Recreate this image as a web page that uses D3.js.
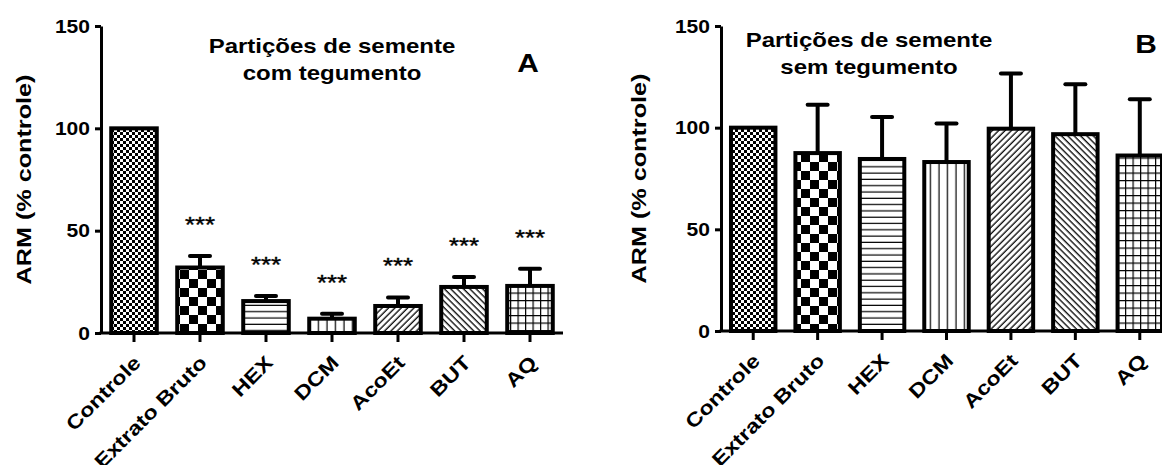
<!DOCTYPE html>
<html>
<head>
<meta charset="utf-8">
<script src="https://cdnjs.cloudflare.com/ajax/libs/d3/7.8.5/d3.min.js"></script>
<style>
  body { margin: 0; background: #fff; }
  text { font-family: "Liberation Sans", Arial, sans-serif; }
</style>
</head>
<body>
<div id="chart"></div>
<script>
// categories (same for both panels)
var categories = ["Controle", "Extrato Bruto", "HEX", "DCM", "AcoEt", "BUT", "AQ"];
// pattern used by each bar
var fills = ["fineCheck", "bigCheck", "hLines", "vLines", "diagUp", "diagDown", "grid"];
// panel A: com tegumento
var meanA = [100, 32, 15.6, 7, 13.2, 22.5, 23];
var semA = [0, 5.6, 2.5, 2.4, 4.2, 4.9, 8.4];
var sigA = ["", "***", "***", "***", "***", "***", "***"];
// panel B: sem tegumento
var meanB = [100, 87.5, 84.6, 83.1, 99.5, 96.8, 86.3];
var semB = [0, 23.8, 20.7, 18.9, 27.2, 24.5, 27.7];
var sigB = ["", "", "", "", "", "", ""];
var yTicks = [0, 50, 100, 150];

var W = 1162, H = 465;
var SX = 1.2; // glyphs in the reference are drawn wide

var svg = d3.select("#chart").append("svg")
  .attr("width", W)
  .attr("height", H)
  .attr("xmlns", "http://www.w3.org/2000/svg");

// hatch patterns
var defs = svg.append("defs");
function pat(id, w, h, tf) {
  var p = defs.append("pattern")
    .attr("id", id)
    .attr("patternUnits", "userSpaceOnUse")
    .attr("width", w).attr("height", h);
  if (tf) p.attr("patternTransform", tf);
  p.append("rect").attr("width", w).attr("height", h).attr("fill", "#fff");
  return p;
}
var p1 = pat("fineCheck", 6, 6);
p1.append("rect").attr("width", 3).attr("height", 3).attr("fill", "#000");
p1.append("rect").attr("x", 3).attr("y", 3).attr("width", 3).attr("height", 3).attr("fill", "#000");
var p2 = pat("bigCheck", 18, 18);
p2.append("rect").attr("width", 9).attr("height", 9).attr("fill", "#000");
p2.append("rect").attr("x", 9).attr("y", 9).attr("width", 9).attr("height", 9).attr("fill", "#000");
var p3 = pat("hLines", 10, 6.3);
p3.append("line").attr("x1", 0).attr("x2", 10).attr("y1", 3).attr("y2", 3).attr("stroke", "#000").attr("stroke-width", 1.2);
var p4 = pat("vLines", 8.5, 10);
p4.append("line").attr("x1", 4).attr("x2", 4).attr("y1", 0).attr("y2", 10).attr("stroke", "#000").attr("stroke-width", 1.2);
var p5 = pat("diagUp", 4.5, 10, "rotate(45)");
p5.append("line").attr("x1", 2).attr("x2", 2).attr("y1", 0).attr("y2", 10).attr("stroke", "#000").attr("stroke-width", 1.3);
var p6 = pat("diagDown", 4.5, 10, "rotate(-45)");
p6.append("line").attr("x1", 2).attr("x2", 2).attr("y1", 0).attr("y2", 10).attr("stroke", "#000").attr("stroke-width", 1.3);
var p7 = pat("grid", 7.5, 7.5);
p7.append("line").attr("x1", 0).attr("x2", 7.5).attr("y1", 0.6).attr("y2", 0.6).attr("stroke", "#000").attr("stroke-width", 1.2);
p7.append("line").attr("x1", 0.6).attr("x2", 0.6).attr("y1", 0).attr("y2", 7.5).attr("stroke", "#000").attr("stroke-width", 1.2);

function drawPanel(cfg) {
  var x = d3.scaleBand().domain(categories).range([cfg.x0, cfg.x1]).paddingInner(0.31).paddingOuter(0.155);
  var y = d3.scaleLinear().domain([0, 150]).range([cfg.y0, 26]);
  var g = svg.append("g");

  var rows = categories.map(function(c, i) {
    return { cat: c, mean: cfg.mean[i], sem: cfg.sem[i], sig: cfg.sig[i], fill: fills[i] };
  });

  // bars
  g.selectAll(".bar").data(rows).enter().append("rect")
    .attr("class", "bar")
    .attr("x", function(d) { return x(d.cat); })
    .attr("width", x.bandwidth())
    .attr("y", function(d) { return y(d.mean); })
    .attr("height", function(d) { return cfg.y0 - y(d.mean); })
    .attr("fill", function(d) { return "url(#" + d.fill + ")"; })
    .attr("stroke", "#000")
    .attr("stroke-width", 4);

  // error bars (upper only)
  var eb = rows.filter(function(d) { return d.sem > 0; });
  g.selectAll(".err").data(eb).enter().append("line")
    .attr("x1", function(d) { return x(d.cat) + x.bandwidth() / 2; })
    .attr("x2", function(d) { return x(d.cat) + x.bandwidth() / 2; })
    .attr("y1", function(d) { return y(d.mean); })
    .attr("y2", function(d) { return y(d.mean + d.sem); })
    .attr("stroke", "#000").attr("stroke-width", 4);
  g.selectAll(".cap").data(eb).enter().append("line")
    .attr("x1", function(d) { return x(d.cat) + x.bandwidth() / 2 - 10; })
    .attr("x2", function(d) { return x(d.cat) + x.bandwidth() / 2 + 10; })
    .attr("y1", function(d) { return y(d.mean + d.sem); })
    .attr("y2", function(d) { return y(d.mean + d.sem); })
    .attr("stroke", "#000").attr("stroke-width", 4).attr("stroke-linecap", "round");

  // significance stars
  g.selectAll(".sig").data(rows.filter(function(d) { return d.sig; })).enter().append("text")
    .attr("transform", function(d) {
      return "translate(" + (x(d.cat) + x.bandwidth() / 2) + "," + (y(d.mean + d.sem) - 24) + ") scale(1.12,1)";
    })
    .attr("text-anchor", "middle")
    .style("font-size", "23px")
    .style("stroke", "#000").style("stroke-width", 0.4)
    .text(function(d) { return d.sig; });

  // y axis
  var ya = g.append("g").attr("transform", "translate(" + cfg.x0 + ",0)")
    .call(d3.axisLeft(y).tickValues(yTicks).tickSize(6).tickSizeOuter(0).tickFormat(""));
  ya.select(".domain").attr("stroke-width", 3);
  ya.selectAll(".tick line").attr("stroke-width", 3);
  g.selectAll(".ylab").data(yTicks).enter().append("text")
    .attr("transform", function(d) { return "translate(" + (cfg.x0 - 11) + "," + (y(d) + 6.5) + ") scale(1.17,1)"; })
    .attr("text-anchor", "end")
    .style("font-size", "18px").style("font-weight", "bold")
    .text(function(d) { return d; });

  // x axis
  var xa = g.append("g").attr("transform", "translate(0," + cfg.y0 + ")")
    .call(d3.axisBottom(x).tickSize(9).tickSizeOuter(0).tickFormat(""));
  xa.select(".domain").attr("stroke-width", 3).attr("d", "M" + (cfg.x0 - 1.5) + ",0H" + cfg.x1);
  xa.selectAll(".tick line").attr("stroke-width", 3);
  g.selectAll(".xlab").data(categories).enter().append("text")
    .attr("transform", function(d) {
      return "translate(" + (x(d) + x.bandwidth() / 2 + 8) + "," + (cfg.y0 + 31) + ") rotate(-45) scale(" + SX + ",1)";
    })
    .attr("text-anchor", "end")
    .style("font-size", "19.5px").style("font-weight", "bold")
    .text(function(d) { return d; });

  // y axis title
  g.append("text")
    .attr("transform", "translate(" + cfg.ylabX + "," + ((cfg.y0 + 26) / 2) + ") rotate(-90) scale(" + SX + ",1)")
    .attr("text-anchor", "middle")
    .style("font-size", "21px").style("font-weight", "bold")
    .text("ARM (% controle)");

  // panel title
  cfg.title.forEach(function(t, i) {
    g.append("text")
      .attr("transform", "translate(" + cfg.titleX + "," + (cfg.titleY + i * 27) + ") scale(" + SX + ",1)")
      .attr("text-anchor", "middle")
      .style("font-size", "20px").style("font-weight", "bold")
      .text(t);
  });
  g.append("text")
    .attr("transform", "translate(" + cfg.letterX + "," + cfg.letterY + ") scale(1.15,1)")
    .attr("text-anchor", "middle")
    .style("font-size", "26px").style("font-weight", "bold")
    .text(cfg.letter);
}

drawPanel({
  x0: 101, x1: 563, y0: 333, mean: meanA, sem: semA, sig: sigA,
  ylabX: 31, title: ["Partições de semente", "com tegumento"], titleX: 332, titleY: 53,
  letter: "A", letterX: 528, letterY: 72
});
drawPanel({
  x0: 721, x1: 1172, y0: 331, mean: meanB, sem: semB, sig: sigB,
  ylabX: 646, title: ["Partições de semente", "sem tegumento"], titleX: 869, titleY: 47,
  letter: "B", letterX: 1146, letterY: 53
});
</script>
</body>
</html>
